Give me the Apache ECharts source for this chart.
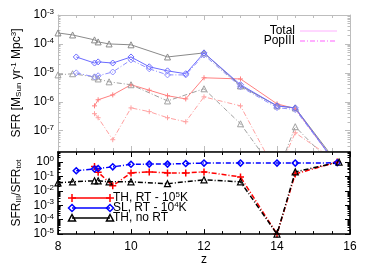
<!DOCTYPE html>
<html><head><meta charset="utf-8">
<script src="https://cdn.jsdelivr.net/npm/echarts@6/dist/echarts.min.js"></script>
<style>html,body{margin:0;padding:0;background:#fff}#c{width:374px;height:267px}</style>
</head><body><div id="c"></div>
<script>
// ---- data (log10 values) ----
const zTH = [8.0, 8.4, 9.0, 9.1, 9.4, 10.0, 11.0, 12.0, 13.0, 14.0, 14.5, 15.7];
const thTotal = [-3.62, -3.69, -3.86, -3.93, -4.00, -4.03, -4.45, -4.31, -5.45, -6.14, -6.21, -8.2];
const thPop3 = [-5.07, -5.03, -5.14, -5.21, -5.31, -5.41, -5.97, -5.55, -6.76, -8.5, -6.86, -8.4];
const thRatio = [-1.44, -1.37, -1.30, -1.30, -1.37, -1.37, -1.50, -1.23, -1.37, -5.0, -0.68, 0.0];

const zSL = [8.5, 9.0, 9.1, 9.5, 10.0, 10.5, 11.0, 11.5, 12.0, 13.0, 14.0, 14.5, 15.65];
const slTotal = [-4.45, -4.66, -4.62, -4.66, -4.45, -4.79, -4.93, -5.03, -4.31, -5.41, -6.14, -6.21, -8.2];
const slPop3 = [-5.00, -5.14, -5.10, -4.97, -4.55, -4.86, -5.07, -5.07, -4.38, -5.48, -6.20, -6.27, -8.2];
const slRatio = [-0.60, -0.48, -0.45, -0.33, -0.15, -0.14, -0.14, -0.10, -0.07, -0.07, -0.07, -0.07, -0.05];

const zRT = [9.0, 9.1, 9.5, 10.0, 10.5, 11.0, 11.5, 12.0, 13.0, 14.0, 14.5, 15.65];
const rtTotal = [-6.14, -5.93, -5.76, -5.41, -5.60, -5.79, -5.90, -5.17, -5.21, -6.07, -6.24, -8.2];
const rtPop3 = [-6.41, -6.55, -7.31, -6.21, -6.34, -6.55, -6.69, -5.83, -6.14, -8.5, -7.07, -8.07];
const rtRatio = [-0.30, -0.70, -1.65, -0.75, -0.68, -0.75, -0.75, -0.68, -1.03, -5.0, -0.82, 0.0];

const xTicks = [8, 10, 12, 14, 16];
const topMajor = [-7, -6, -5, -4, -3];
const botMajor = [0, -1, -2, -3, -4, -5];

// ---- chart ----
const FONT = 'Liberation Sans';
const chart = echarts.init(document.getElementById('c'));
const pairs = (z, v) => z.map((x, i) => [x, v[i]]);
function minors(lo, hi) {
  const out = [];
  for (let n = Math.floor(lo); n < Math.ceil(hi); n++)
    for (let k = 2; k <= 9; k++) { const v = n + Math.log10(k); if (v > lo && v < hi) out.push(v); }
  return out;
}
const labRich = {
  b: {fontSize: 12, fontFamily: FONT, color: '#000'},
  s: {fontSize: 8, fontFamily: FONT, color: '#000', padding: [0, 0, 6, 0]}
};
const DASHDOT = [5, 2, 1, 2];

function xa(g, pos, labels, color, w) {
  return {
    type: 'value', gridIndex: g, position: pos, min: 8, max: 16, interval: 2,
    axisLine: {show: true, onZero: false, lineStyle: {color: color, width: w}},
    axisTick: {show: true, inside: true, length: 5, lineStyle: {color: color, width: 1}},
    minorTick: {show: true, splitNumber: 4, length: 3, lineStyle: {color: color, width: 1}},
    axisLabel: {show: labels, margin: 7, fontSize: 12, fontFamily: FONT, color: '#000',
      customValues: xTicks, formatter: v => String(v)},
    splitLine: {show: false}, minorSplitLine: {show: false},
    name: labels && pos === 'bottom' ? 'z' : '', nameLocation: 'middle', nameGap: 19,
    nameTextStyle: {fontSize: 12, fontFamily: FONT, color: '#000'},
    z: g === 1 ? 10 : 1
  };
}
function ya(g, pos, min, max, ticks, isMajor, color, w, name, nameRich) {
  return {
    type: 'value', gridIndex: g, position: pos, min: min, max: max,
    axisLine: {show: isMajor, onZero: false, lineStyle: {color: color, width: w}},
    axisTick: {show: true, inside: true, length: isMajor ? 5 : 2.5, customValues: ticks,
      lineStyle: {color: color, width: 1}},
    axisLabel: {show: isMajor && pos === 'left', customValues: ticks, margin: 4,
      formatter: v => '{b|10}{s|' + Math.round(v) + '}', rich: labRich},
    splitLine: {show: false},
    name: name || '', nameLocation: 'middle', nameGap: 28, nameRotate: 90,
    nameTextStyle: {fontSize: 12, fontFamily: FONT, color: '#000', rich: nameRich || {}},
    z: g === 1 ? 10 : 1
  };
}
const TOPC = '#bdbdbd';
const titleRich = {
  sub: {fontSize: 8, fontFamily: FONT, color: '#000', padding: [4, 0, 0, 0]},
  sup: {fontSize: 8, fontFamily: FONT, color: '#000', padding: [0, 0, 6, 0]},
  n: {fontSize: 12, fontFamily: FONT, color: '#000'}
};
const yAxes = [
  ya(0, 'left', -7.7, -3, topMajor, true, TOPC, 1, '{n|SFR [M}{sub|Sun}{n| yr}{sup|-1}{n| Mpc}{sup|3}{n|]}', titleRich),
  ya(0, 'left', -7.7, -3, minors(-7.7, -3), false, TOPC, 1),
  ya(0, 'right', -7.7, -3, topMajor, true, TOPC, 1),
  ya(0, 'right', -7.7, -3, minors(-7.7, -3), false, TOPC, 1),
  ya(1, 'left', -5, 0.7, botMajor, true, '#000', 1.6, '{n|SFR}{sub|III}{n|/SFR}{sub|tot}', titleRich),
  ya(1, 'left', -5, 0.7, minors(-5, 0.7), false, '#000', 1),
  ya(1, 'right', -5, 0.7, botMajor, true, '#000', 1.6),
  ya(1, 'right', -5, 0.7, minors(-5, 0.7), false, '#000', 1)
];

const PLUS = 'path://M0,5L10,5M5,0L5,10';
function ser(z, v, xi, yi, color, dashed, symbol, size, lw, mw) {
  return {
    type: 'line', xAxisIndex: xi, yAxisIndex: yi, data: pairs(z, v),
    symbol: symbol, symbolSize: size, showAllSymbol: true, clip: true,
    lineStyle: {color: color, width: lw, type: dashed ? DASHDOT : 'solid'},
    itemStyle: {color: 'rgba(0,0,0,0)', borderColor: color, borderWidth: mw || lw},
    silent: true
  };
}
const series = [
  ser(zRT, rtTotal, 0, 0, '#ff8080', false, PLUS, 5, 1),
  ser(zRT, rtPop3, 0, 0, '#ffa0a0', true, PLUS, 5, 1),
  ser(zTH, thTotal, 0, 0, '#8a8a8a', false, 'triangle', 6, 1),
  ser(zTH, thPop3, 0, 0, '#a0a0a0', true, 'triangle', 6, 1),
  ser(zSL, slTotal, 0, 0, '#6b6bff', false, 'diamond', 6, 1),
  ser(zSL, slPop3, 0, 0, '#8f8fff', true, 'diamond', 6, 1),
  ser(zRT, rtRatio, 2, 4, '#ff0000', true, PLUS, 7, 1.5),
  ser(zSL, slRatio, 2, 4, '#0000ff', true, 'diamond', 6, 1.5),
  ser(zTH, thRatio, 2, 4, '#000000', true, 'triangle', 6, 1.5, 1.2)
];

// legends (drawn as graphics)
const gfx = [];
function txt(x, y, t, align, rich) {
  gfx.push({type: 'text', x: x, y: y, z: 100, style: {text: t, align: align, verticalAlign: 'middle',
    fontSize: 12, fontFamily: FONT, fill: '#000', rich: rich || {}}});
}
function ln(x1, y1, x2, y2, color, dash, w) {
  gfx.push({type: 'line', z: 100, shape: {x1, y1, x2, y2}, style: {stroke: color, lineWidth: w || 1, lineDash: dash || null}});
}
txt(295, 31, 'Total', 'right');
ln(300, 31, 337, 31, '#ffb0ff');
txt(295, 41, 'PopIII', 'right');
ln(300, 41, 337, 41, '#ff60ff', DASHDOT);

const legRich = {n: {fontSize: 12, fontFamily: FONT, color: '#000'}, sup: {fontSize: 8, fontFamily: FONT, color: '#000', padding: [0, 0, 6, 0]}};
const legRows = [
  {y: 198, c: '#ff0000', m: 'plus', t: '{n|TH, RT - 10}{sup|5}{n|K}'},
  {y: 208, c: '#0000ff', m: 'diamond', t: '{n|SL, RT - 10}{sup|4}{n|K}'},
  {y: 218, c: '#000000', m: 'triangle', t: '{n|TH, no RT}'}
];
function marker(kind, cx, cy, c) {
  const st = {stroke: c, fill: 'rgba(0,0,0,0)', lineWidth: 1.5};
  if (kind === 'plus') {
    ln(cx - 4, cy, cx + 4, cy, c, null, 1.5); ln(cx, cy - 4, cx, cy + 4, c, null, 1.5);
  } else if (kind === 'diamond') {
    gfx.push({type: 'polygon', z: 101, shape: {points: [[cx, cy - 3.5], [cx + 3.5, cy], [cx, cy + 3.5], [cx - 3.5, cy]]}, style: st});
  } else {
    gfx.push({type: 'polygon', z: 101, shape: {points: [[cx, cy - 3.5], [cx + 3.5, cy + 3], [cx - 3.5, cy + 3]]}, style: st});
  }
}
legRows.forEach(r => {
  ln(72, r.y, 110, r.y, r.c, null, 1.5);
  marker(r.m, 72, r.y, r.c);
  marker(r.m, 110, r.y, r.c);
  txt(113, r.y, r.t, 'left', legRich);
});

chart.setOption({
  animation: false,
  backgroundColor: '#fff',
  grid: [
    {left: 58, right: 24, top: 15, height: 136},
    {left: 58, right: 24, top: 152, height: 83}
  ],
  xAxis: [
    xa(0, 'bottom', false, TOPC, 1), xa(0, 'top', false, TOPC, 1),
    xa(1, 'bottom', true, '#000', 1.6), xa(1, 'top', false, '#000', 1.6)
  ],
  yAxis: yAxes,
  series: series,
  graphic: gfx
});
</script></body></html>
